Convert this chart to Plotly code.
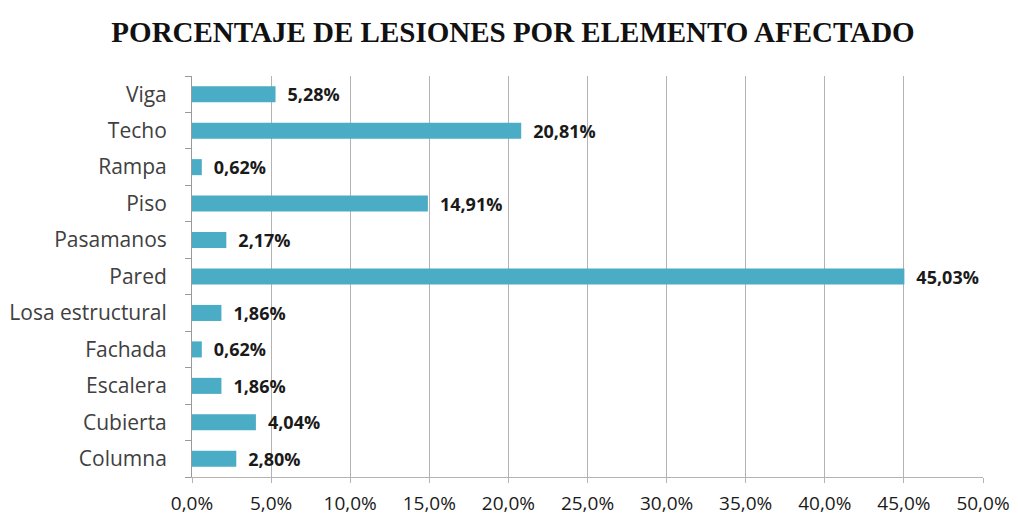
import plotly.graph_objects as go

# Elements, listed bottom to top as in the chart
elementos = ["Columna", "Cubierta", "Escalera", "Fachada", "Losa estructural",
             "Pared", "Pasamanos", "Piso", "Rampa", "Techo", "Viga"]
porcentajes = [2.80, 4.04, 1.86, 0.62, 1.86, 45.03, 2.17, 14.91, 0.62, 20.81, 5.28]
x_ticks = [0, 5, 10, 15, 20, 25, 30, 35, 40, 45, 50]

etiquetas = ["<b>" + f"{v:.2f}%".replace(".", ",") + "</b>" for v in porcentajes]
x_ticktext = [f"{t:.1f}%".replace(".", ",") for t in x_ticks]

fig = go.Figure()
fig.add_trace(go.Bar(
    y=elementos, x=porcentajes, orientation="h",
    marker=dict(color="#4BACC6", line=dict(width=0)),
    width=0.44,
    text=["\u2002" + e for e in etiquetas], textposition="outside",
    constraintext="none", cliponaxis=False,
    textfont=dict(family="Open Sans", size=18, color="#1a1a1a"),
    hoverinfo="skip",
))

# page body has an 8px margin, so the figure is 8px smaller than the window
fig.update_layout(
    width=1010, height=511,
    margin=dict(l=184, r=35, t=68, b=42, autoexpand=False),
    paper_bgcolor="white", plot_bgcolor="white",
    showlegend=False,
    title=dict(text="<b>PORCENTAJE DE LESIONES POR ELEMENTO AFECTADO</b>",
               x=0.5, xanchor="center", y=0.953, yanchor="middle",
               font=dict(family="Liberation Serif", size=29, color="#111111")),
)
fig.update_xaxes(
    range=[0, 50], tickvals=x_ticks, ticktext=x_ticktext, automargin=False,
    showgrid=True, gridcolor="#b3b3b3", gridwidth=1,
    showline=True, linecolor="#b3b3b3", ticks="outside", ticklen=5, tickcolor="#b3b3b3",
    ticklabelstandoff=4,
    tickfont=dict(family="Open Sans", size=19, color="#1a1a1a"),
    zeroline=False,
)
fig.update_yaxes(
    type="category", showline=True, linecolor="#9a9a9a", automargin=False,
    ticks="outside", tickson="boundaries", ticklen=6, tickcolor="#9a9a9a",
    ticklabelstandoff=20,
    tickfont=dict(family="Open Sans", size=21, color="#404040"),
    showgrid=False,
)

fig.write_html("out.html")
